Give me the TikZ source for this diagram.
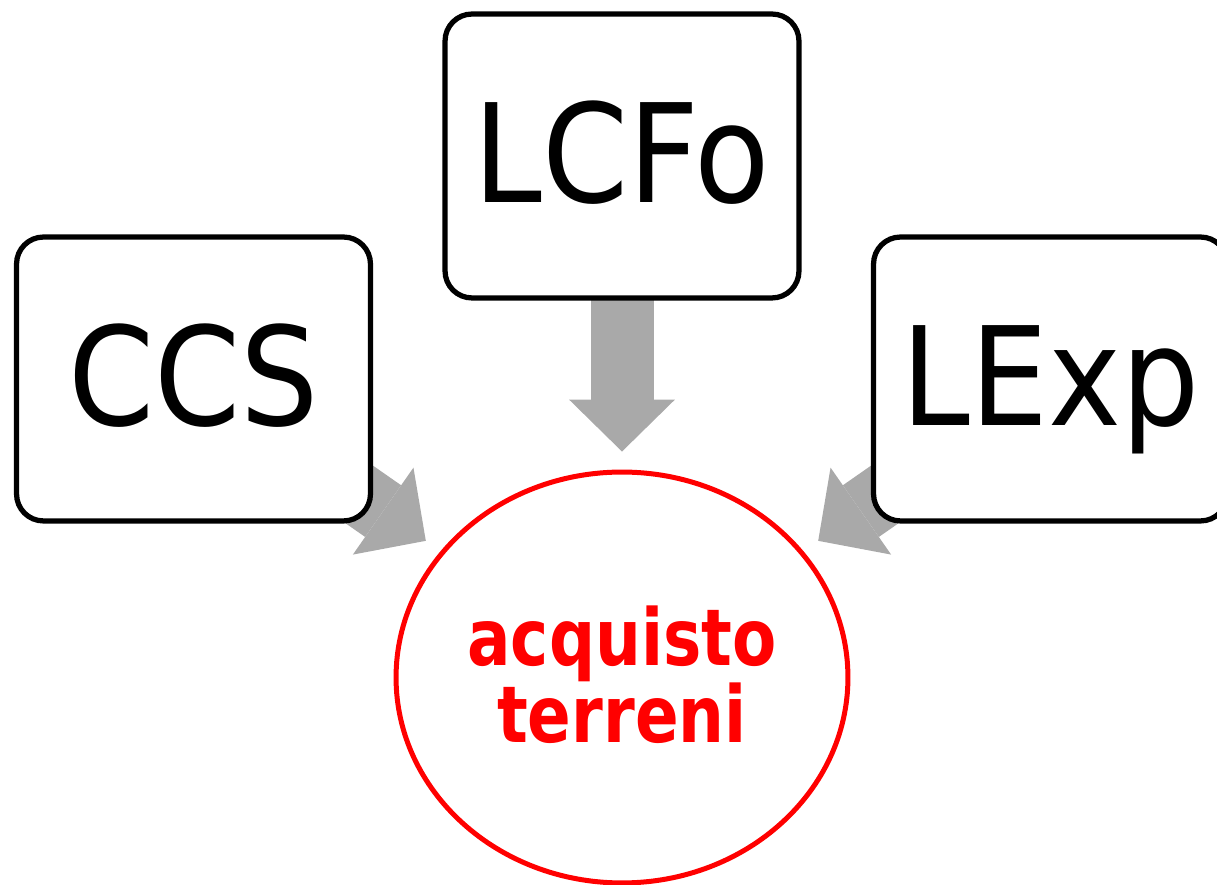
\documentclass[tikz,border=0pt]{standalone}
\usepackage{fontspec}
\setmainfont{DejaVu Sans}
\newfontfamily\boxfont[FakeStretch=0.9]{DejaVu Sans}
\newfontfamily\goalfont[FakeStretch=0.82]{DejaVu Sans}
\usetikzlibrary{arrows.meta,shapes.geometric}
\definecolor{arrowgray}{RGB}{169,169,169}
\pgfdeclarelayer{bg}
\pgfsetlayers{bg,main}

\begin{document}
\begin{tikzpicture}[x=.02cm,y=.02cm,
	box/.style={draw,fill=white,line width=.105cm,rounded corners=.54cm,
		minimum width=7.08cm,minimum height=5.68cm,inner sep=0pt,
		text height=57pt,text depth=4.5pt,font=\boxfont\fontsize{78}{80}\selectfont},
	goal/.style={ellipse,draw=red,line width=.1cm,minimum width=9.04cm,minimum height=8.22cm,
		inner sep=0pt,text=red,align=center,text height=2.62cm,text depth=0pt,
		font=\goalfont\bfseries\fontsize{44.7}{44.2}\selectfont},
	feed/.style={draw=arrowgray,line width=1.26cm,shorten >=.36cm,
		-{Triangle[length=1.04cm,width=2.12cm,line width=0pt]}}]
		\useasboundingbox (0,0) rectangle (1217,885);
		
		\node[box] (ccs) at (193.5,506) {CCS};
		\node[box] (lcfo) at (622,729) {LCFo};
		\node[box] (lexp) at (1050.5,506) {LExp};
		
		\node[goal] (acq) at (622,207.5) {acquisto\\terreni};
		
		\begin{pgfonlayer}{bg}
		\draw[feed] (ccs.center) -- (acq);
		\draw[feed] (lcfo.center) -- (acq);
		\draw[feed] (lexp.center) -- (acq);
		\end{pgfonlayer}
		
		\end{tikzpicture}
\end{document}
